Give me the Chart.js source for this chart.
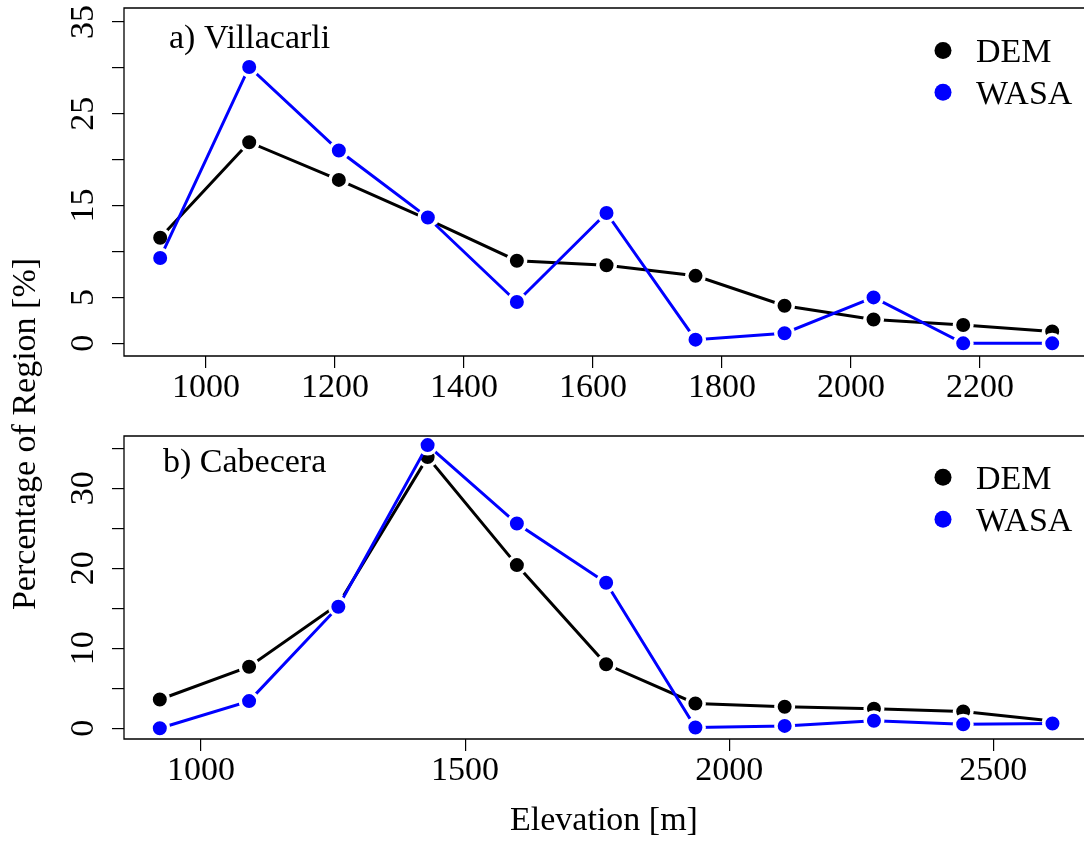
<!DOCTYPE html>
<html>
<head>
<meta charset="utf-8">
<script src="https://cdn.jsdelivr.net/npm/chart.js@4.4.0/dist/chart.umd.min.js"></script>
<style>
body { margin: 0; background: #fff; overflow: hidden; }
#wrap { position: relative; width: 1084px; height: 843px; }
#wrap canvas { position: absolute; left: 0; }
#ylab {
	position: absolute; left: -176px; top: 417px; width: 400px; height: 34px;
	font-family: "Liberation Serif", serif; font-size: 34px; line-height: 34px;
	text-align: center; color: #000; white-space: nowrap;
	transform: rotate(-90deg);
}
</style>
</head>
<body>
<div id="wrap">
	<canvas id="chartA" width="1084" height="420" style="top:0px"></canvas>
	<canvas id="chartB" width="1084" height="423" style="top:420px"></canvas>
	<div id="ylab">Percentage of Region [%]</div>
</div>
<script>
// elevation class centres [m] and share of region [%]
var elevA = [929, 1067, 1206, 1344, 1482, 1621, 1759, 1897, 2035, 2174, 2312];
var demA  = [11.5, 21.9, 17.8, 13.5, 9.0, 8.5, 7.35, 4.1, 2.6, 2.0, 1.3];
var wasaA = [9.3, 30.1, 21.0, 13.7, 4.5, 14.2, 0.4, 1.1, 5.0, 0.0, 0.0];

var elevB = [922, 1091, 1260, 1429, 1598, 1767, 1936, 2105, 2274, 2443, 2612];
var demB  = [3.6, 7.7, 15.5, 33.9, 20.4, 8.0, 3.1, 2.7, 2.45, 2.1, 0.9];
var wasaB = [0.0, 3.4, 15.2, 35.4, 25.6, 18.2, 0.1, 0.3, 0.95, 0.5, 0.6];

// axis ticks (R leaves out labels that would overlap)
var xTicksA = [1000, 1200, 1400, 1600, 1800, 2000, 2200];
var xTicksB = [1000, 1500, 2000, 2500];
var yTicks = [0, 5, 10, 15, 20, 25, 30, 35];
var yLabelsA = [0, 5, 15, 25, 35];
var yLabelsB = [0, 10, 20, 30];

var seriesNames = ["DEM", "WASA"];
var seriesColors = ["#000000", "#0000ff"];

var FONT = '"Liberation Serif", serif';
var FSIZE = 34;

function toPoints(xs, ys) {
	return xs.map(function(x, i) { return {x: x, y: ys[i]}; });
}

// box (right side is off the picture), panel tag and legend
var framePlugin = {
	id: 'frame',
	afterDraw: function(chart) {
		var ctx = chart.ctx;
		var a = chart.chartArea;
		var o = chart.options.plugins.frame;
		ctx.save();
		ctx.strokeStyle = '#000';
		ctx.lineWidth = 1.3;
		ctx.beginPath();
		ctx.moveTo(a.right + 5, a.top);
		ctx.lineTo(a.left, a.top);
		ctx.lineTo(a.left, a.bottom);
		ctx.lineTo(a.right + 5, a.bottom);
		ctx.stroke();

		ctx.fillStyle = '#000';
		ctx.font = FSIZE + 'px ' + FONT;
		ctx.textBaseline = 'alphabetic';
		ctx.textAlign = 'left';
		ctx.fillText(o.tag, o.tagX, o.tagY);

		seriesNames.forEach(function(name, i) {
			var cy = o.legendY[i];
			ctx.fillStyle = seriesColors[i];
			ctx.beginPath();
			ctx.arc(943, cy, 8.5, 0, Math.PI * 2);
			ctx.fill();
			ctx.fillStyle = '#000';
			ctx.fillText(name, 976, cy + 11.5);
		});
		ctx.restore();
	}
};

function makePanel(id, elev, dem, wasa, p) {
	var ctx = document.getElementById(id);
	var sets = [dem, wasa].map(function(vals, i) {
		return {
			label: seriesNames[i],
			data: toPoints(elev, vals),
			borderColor: seriesColors[i],
			backgroundColor: seriesColors[i],
			borderWidth: 3,
			tension: 0,
			pointRadius: 8.75,
			pointHoverRadius: 8.75,
			pointBackgroundColor: seriesColors[i],
			pointBorderColor: '#ffffff',
			pointBorderWidth: 3.5,
			order: 1 - i // WASA drawn over DEM
		};
	});

	return new Chart(ctx, {
		type: 'line',
		data: { datasets: sets },
		plugins: [framePlugin],
		options: {
			responsive: false,
			animation: false,
			layout: { autoPadding: false, padding: { top: p.padTop, right: 0, bottom: 0, left: 0 } },
			plugins: {
				legend: { display: false },
				tooltip: { enabled: false },
				frame: { tag: p.tag, tagX: p.tagX, tagY: p.tagY, legendY: p.legendY }
			},
			scales: {
				x: {
					type: 'linear',
					min: p.xMin,
					max: p.xMax,
					afterBuildTicks: function(scale) {
						scale.ticks = p.xTicks.map(function(v) { return {value: v}; });
					},
					afterFit: function(scale) {
						scale.height = p.xHeight;
						scale.paddingLeft = 0;
						scale.paddingRight = 0;
					},
					border: { display: false },
					grid: { drawOnChartArea: false, drawTicks: true, tickLength: 12, color: '#000', lineWidth: 1.2 },
					ticks: {
						autoSkip: false, maxRotation: 0, padding: 0, color: '#000',
						font: { family: FONT, size: FSIZE },
						callback: function(v) { return String(v); }
					},
					title: {
						display: p.xTitle !== '',
						text: p.xTitle,
						color: '#000',
						font: { family: FONT, size: FSIZE },
						padding: { top: 0, bottom: 2 }
					}
				},
				y: {
					type: 'linear',
					min: p.yMin,
					max: p.yMax,
					afterBuildTicks: function(scale) {
						scale.ticks = yTicks.map(function(v) { return {value: v}; });
					},
					afterFit: function(scale) {
						scale.width = 124;
						scale.paddingTop = 0;
						scale.paddingBottom = 0;
					},
					border: { display: false },
					grid: { drawOnChartArea: false, drawTicks: true, tickLength: 12, color: '#000', lineWidth: 1.2 },
					ticks: {
						autoSkip: false, minRotation: 90, maxRotation: 90,
						crossAlign: 'center', padding: 11, color: '#000',
						font: { family: FONT, size: FSIZE },
						callback: function(v) {
							return p.yLabels.indexOf(v) >= 0 ? String(v) : '';
						}
					}
				}
			}
		}
	});
}

document.addEventListener("DOMContentLoaded", function(event) {
	makePanel('chartA', elevA, demA, wasaA, {
		padTop: 8, xHeight: 64,
		xMin: 872.9, xMax: 2361.3, yMin: -1.38, yMax: 36.52,
		xTicks: xTicksA, yLabels: yLabelsA, xTitle: '',
		tag: 'a) Villacarli', tagX: 169, tagY: 47.5, legendY: [50.5, 92.3]
	});
	makePanel('chartB', elevB, demB, wasaB, {
		padTop: 16, xHeight: 104,
		xMin: 854.2, xMax: 2671.7, yMin: -1.34, yMax: 36.54,
		xTicks: xTicksB, yLabels: yLabelsB, xTitle: 'Elevation [m]',
		tag: 'b) Cabecera', tagX: 163, tagY: 51.7, legendY: [57.3, 99.3]
	});
});
</script>
</body>
</html>
